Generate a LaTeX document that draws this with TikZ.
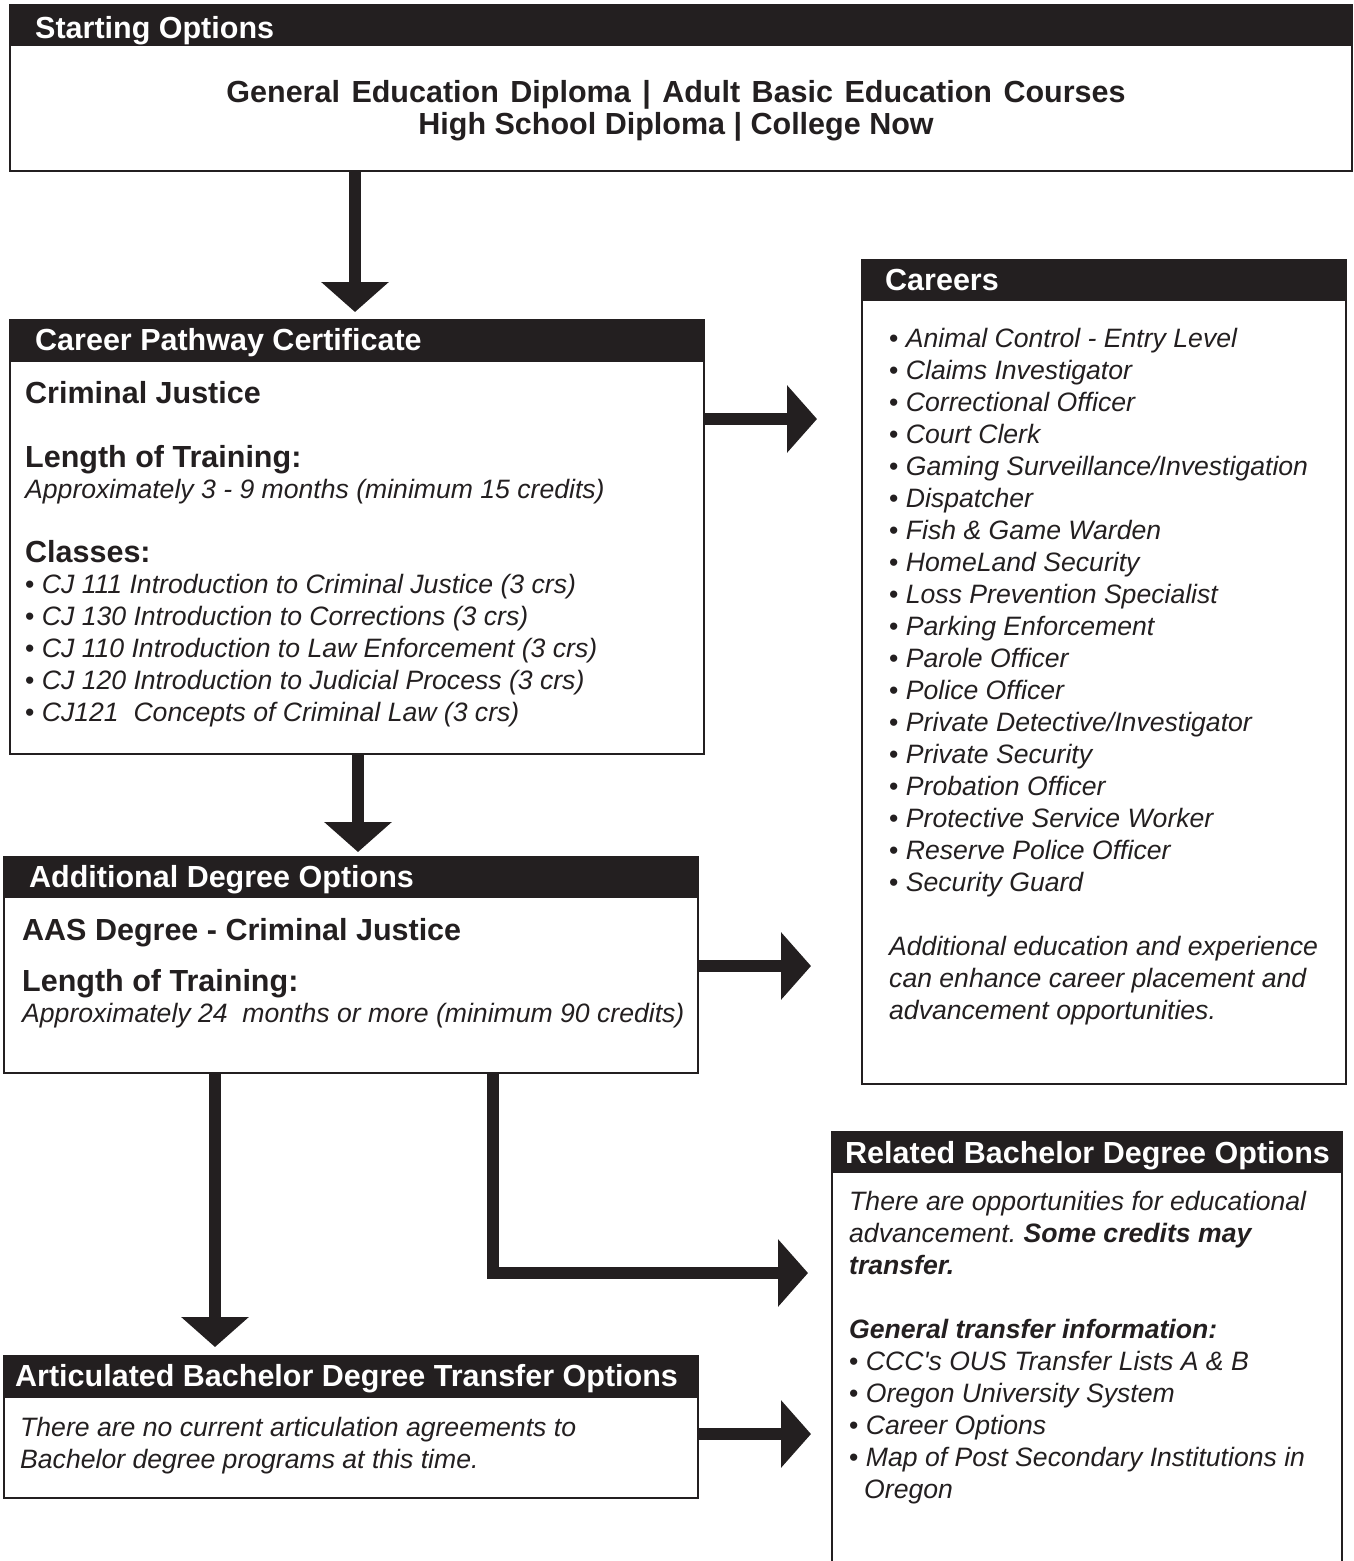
\documentclass[tikz,border=0pt]{standalone}
\usepackage{fontspec}
\newfontfamily\lsans{Liberation Sans}
\usetikzlibrary{arrows.meta,calc}
\definecolor{ink}{HTML}{231F20}
\frenchspacing
\begin{document}
\begin{tikzpicture}[x=1pt,y=-1pt,
 box/.style={draw=ink, line width=2.5pt, fill=white, anchor=north west, inner sep=0pt, outer sep=0pt},
 bar/.style={fill=ink, draw=ink, line width=2.5pt, anchor=north west, inner sep=0pt, outer sep=0pt},
 htxt/.style={text=white, font=\lsans\fontsize{30.5}{34}\selectfont\bfseries, anchor=base west, inner sep=0pt},
 btxt/.style={text=ink, font=\lsans\fontsize{30.5}{34}\selectfont\bfseries, anchor=base west, inner sep=0pt},
 itxt/.style={text=ink, font=\lsans\fontsize{26.6}{32}\selectfont\itshape, anchor=base west, inner sep=0pt},
 conn/.style={draw=ink, line width=12pt, line join=miter, -{Triangle[width=66pt,length=30pt]}},
]
\useasboundingbox[fill=white] (0,0) rectangle (1354,1561);

% ---------- boxes ----------
\node[box, minimum width=1342pt, minimum height=166pt] (start) at (10,5) {};
\node[bar, minimum width=1342pt, minimum height=40pt] (startbar) at (start.north west) {};
\node[htxt] (startttl) at (35,38) {Starting Options};
\node[btxt, anchor=base] (s1) at (676,102) {\spaceskip=11.5pt General Education Diploma | Adult Basic Education Courses};
\node[btxt, anchor=base] (s2) at (676,134) {High School Diploma | College Now};

\node[box, minimum width=694pt, minimum height=434pt] (cpc) at (10,320) {};
\node[bar, minimum width=694pt, minimum height=41pt] (cpcbar) at (cpc.north west) {};
\node[htxt] (cpcttl) at (35,350) {Career Pathway Certificate};
\node[btxt] (cj) at (25,403) {Criminal Justice};
\node[btxt] (lot1) at (25,467) {Length of Training:};
\node[itxt] (apx1) at (25,498) {Approximately 3 - 9 months (minimum 15 credits)};
\node[btxt] (cls) at (25,562) {Classes:};
\foreach \t [count=\i] in {{CJ 111 Introduction to Criminal Justice (3 crs)},
  {CJ 130 Introduction to Corrections (3 crs)},
  {CJ 110 Introduction to Law Enforcement (3 crs)},
  {CJ 120 Introduction to Judicial Process (3 crs)},
  {CJ121\ \ Concepts of Criminal Law (3 crs)}}
  \node[itxt] (cls\i) at (25,{561+32*\i}) {{\upshape•} \t};

\node[box, minimum width=484pt, minimum height=824pt] (careers) at (862,260) {};
\node[bar, minimum width=484pt, minimum height=40pt] (carbar) at (careers.north west) {};
\node[htxt] (carttl) at (885,290) {Careers};
\foreach \t [count=\i] in {{Animal Control - Entry Level},{Claims Investigator},
  {Correctional Officer},{Court Clerk},{Gaming Surveillance/Investigation},
  {Dispatcher},{Fish \& Game Warden},{HomeLand Security},{Loss Prevention Specialist},
  {Parking Enforcement},{Parole Officer},{Police Officer},
  {Private Detective/Investigator},{Private Security},{Probation Officer},
  {Protective Service Worker},{Reserve Police Officer},{Security Guard}}
  \node[itxt] (car\i) at (889,{315+32*\i}) {{\upshape•} \t};
\node[itxt] (add1) at (889,955) {Additional education and experience};
\node[itxt] (add2) at (889,987) {can enhance career placement and};
\node[itxt] (add3) at (889,1019) {advancement opportunities.};

\node[box, minimum width=694pt, minimum height=216pt] (ado) at (4,857) {};
\node[bar, minimum width=694pt, minimum height=40pt] (adobar) at (ado.north west) {};
\node[htxt] (adottl) at (29,887) {Additional Degree Options};
\node[btxt] (aas) at (22,940) {AAS Degree - Criminal Justice};
\node[btxt] (lot2) at (22,991) {Length of Training:};
\node[itxt] (apx2) at (22,1022) {Approximately 24\ \ months or more (minimum 90 credits)};

\node[box, minimum width=510pt, minimum height=445pt] (rel) at (832,1132) {};
\node[bar, minimum width=510pt, minimum height=40pt] (relbar) at (rel.north west) {};
\node[htxt] (relttl) at (845,1163) {Related Bachelor Degree Options};
\node[itxt] (r1) at (849,1210) {There are opportunities for educational};
\node[itxt] (r2) at (849,1242) {advancement. \textbf{Some credits may}};
\node[itxt] (r3) at (849,1274) {\textbf{transfer.}};
\node[itxt] (r4) at (849,1338) {\textbf{General transfer information:}};
\node[itxt] (r5) at (849,1370) {{\upshape•} CCC's OUS Transfer Lists A \& B};
\node[itxt] (r6) at (849,1402) {{\upshape•} Oregon University System};
\node[itxt] (r7) at (849,1434) {{\upshape•} Career Options};
\node[itxt] (r8) at (849,1466) {{\upshape•} Map of Post Secondary Institutions in};
\node[itxt] (r9) at (864,1498) {Oregon};

\node[box, minimum width=694pt, minimum height=142pt] (art) at (4,1356) {};
\node[bar, minimum width=694pt, minimum height=41pt] (artbar) at (art.north west) {};
\node[htxt] (artttl) at (15,1386) {Articulated Bachelor Degree Transfer Options};
\node[itxt] (a1) at (20,1436) {There are no current articulation agreements to};
\node[itxt] (a2) at (20,1468) {Bachelor degree programs at this time.};

% ---------- connectors ----------
\coordinate (x1) at (355,0);
\coordinate (x3) at (358,0);
\coordinate (x5) at (215,0);
\coordinate (x6) at (493,0);
\coordinate (y2) at (0,419);
\coordinate (y4) at (0,966);
\coordinate (y6) at (0,1273);
\coordinate (y7) at (0,1434);
\draw[conn, shorten >=8pt] (start.south -| x1) -- (cpc.north -| x1);
\draw[conn, shorten >=45pt] (cpc.east |- y2) -- (careers.west |- y2);
\draw[conn, shorten >=5pt] (cpc.south -| x3) -- (ado.north -| x3);
\draw[conn, shorten >=51pt] (ado.east |- y4) -- (careers.west |- y4);
\draw[conn, shorten >=9pt] (ado.south -| x5) -- (art.north -| x5);
\draw[conn, shorten >=24pt] (ado.south -| x6) |- (rel.west |- y6);
\draw[conn, shorten >=21pt] (art.east |- y7) -- (rel.west |- y7);
\end{tikzpicture}
\end{document}
